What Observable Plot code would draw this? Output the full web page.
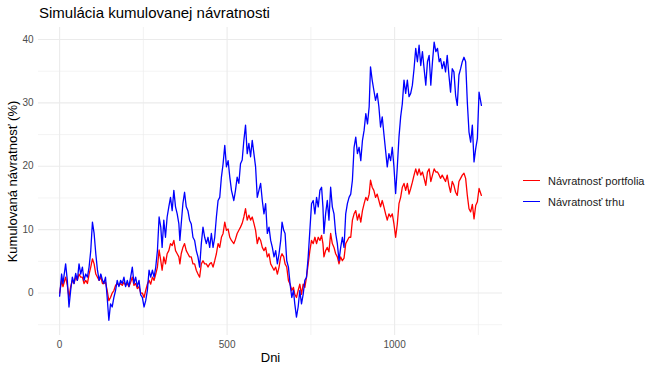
<!DOCTYPE html>
<html><head><meta charset="utf-8">
<script src="https://cdn.jsdelivr.net/npm/d3@7"></script>
<script src="https://cdn.jsdelivr.net/npm/@observablehq/plot@0.6"></script>
<style>
body{margin:0;background:#fff;font-family:"Liberation Sans",Arial,sans-serif;}
#wrap{position:relative;width:650px;height:372px;overflow:hidden;}
#chart{position:absolute;left:0;top:0;}
#title{position:absolute;left:39px;top:4px;font-size:15px;color:#000;white-space:nowrap;}
#legend{position:absolute;left:523px;top:170px;font-size:11px;color:#1a1a1a;}
.item{display:flex;align-items:center;height:21px;white-space:nowrap;}
.key{width:17px;height:1.5px;margin-right:8px;}
</style></head><body>
<div id="wrap"><div id="chart"></div><div id="title"></div><div id="legend"></div></div>
<script>
const titleText = "Simulácia kumulovanej návratnosti";
const xTitle = "Dni";
const yTitle = "Kumulovaná návratnosť (%)";
const seriesNames = ["Návratnosť portfolia", "Návratnosť trhu"];
const seriesColors = ["red", "blue"];
const xTicks = [0, 500, 1000];
const xMinor = [250, 750, 1250];
const yTicks = [0, 10, 20, 30, 40];
const yMinor = [-5, 5, 15, 25, 35];

const days = [
0,6,10,18,23,28,33,38,43,48,
53,58,63,68,73,78,83,88,93,98,
103,108,113,118,123,128,132,137,142,147,
152,157,162,167,172,177,182,187,192,197,
202,207,212,217,222,227,232,237,242,247,
252,257,262,267,272,277,282,287,292,297,
302,306,311,316,321,326,331,336,341,346,
351,356,359,363,368,373,378,383,388,393,
398,403,408,413,418,423,428,433,438,443,
448,453,458,463,468,473,478,483,488,493,
498,503,508,513,520,525,530,535,540,545,
550,555,560,565,570,575,580,585,590,595,
600,605,610,615,620,625,630,635,640,645,
650,655,660,664,669,673,678,683,688,693,
698,702,707,712,717,722,727,732,737,742,
747,752,757,762,767,772,777,782,786,789,
794,799,804,809,814,819,824,829,834,839,
844,849,854,859,864,869,874,879,884,889,
894,899,904,909,914,919,924,928,933,938,
943,948,953,958,963,968,973,978,983,988,
993,998,1003,1008,1013,1018,1023,1028,1033,1038,
1043,1048,1053,1058,1063,1068,1073,1078,1083,1088,
1093,1098,1103,1108,1113,1118,1123,1128,1133,1137,
1142,1147,1152,1157,1162,1167,1172,1177,1182,1187,
1192,1197,1202,1207,1212,1217,1222,1227,1232,1237,
1242,1247,1252,1259];

const market = [
-0.5,3.0,1.5,4.6,2.0,-2.2,0.4,2.5,1.5,3.1,
2.0,4.6,3.0,4.1,2.0,3.0,2.5,4.1,6.7,11.2,
9.4,6.2,3.6,2.0,3.0,2.0,1.5,2.5,-0.7,-4.3,
-1.7,-2.2,-0.7,0.4,2.0,1.0,2.0,1.5,2.5,1.0,
2.0,1.0,2.5,4.1,1.5,2.5,1.0,2.0,-0.3,-0.7,
-2.2,-1.2,0.4,3.6,2.5,3.6,2.5,4.1,6.7,12.0,
10.4,7.2,11.5,8.8,12.0,13.6,15.1,13.0,16.2,13.6,
12.5,10.9,8.3,10.9,14.1,15.9,13.6,13.0,11.5,10.9,
8.8,8.3,6.7,5.7,4.1,7.8,10.4,8.8,7.8,8.8,
7.2,9.4,7.2,8.8,12.0,14.6,15.1,18.3,20.4,23.3,
19.9,20.9,18.3,16.2,14.6,16.2,18.3,17.3,20.4,21.0,
24.1,26.5,22.0,23.6,21.5,24.1,22.0,19.9,15.1,16.2,
17.3,14.6,12.5,14.1,9.4,10.4,8.3,7.2,5.7,6.7,
4.6,6.2,8.3,11.2,9.9,9.4,5.1,4.1,1.4,-0.7,
0.4,-1.7,-3.8,-2.2,0.4,-1.7,-0.2,2.0,2.5,5.7,
9.9,14.1,14.6,12.5,15.1,13.6,16.2,16.7,13.6,9.4,
12.5,14.6,11.5,16.7,13.6,12.5,9.4,7.8,5.1,7.2,
8.8,7.2,12.5,14.1,15.1,15.6,17.8,23.0,24.6,22.0,
23.0,20.9,24.1,25.7,28.3,26.7,29.4,35.7,33.6,32.0,
30.4,31.5,29.4,26.2,27.8,25.1,22.5,19.9,22.0,20.9,
23.0,19.9,15.7,19.9,24.6,27.8,29.9,33.6,31.5,33.6,
31.0,31.5,32.8,35.4,38.6,36.5,39.1,35.9,38.1,35.4,
32.8,36.5,37.5,32.8,36.5,39.6,38.1,38.6,36.5,37.0,
35.4,36.5,34.9,37.5,34.4,31.7,35.4,34.9,31.2,29.6,
34.4,35.4,36.5,37.2,36.5,30.1,25.4,23.8,26.5,20.7,
22.8,24.4,31.7,29.6];

const portfolio = [
0,2.0,1.0,2.5,1.2,-0.7,1.0,2.0,1.5,2.5,
2.0,3.0,2.5,2.5,1.5,2.0,1.5,3.0,4.1,5.4,
4.6,3.0,2.5,2.0,2.5,1.5,1.5,1.7,0.4,-1.2,
-0.7,0,0.4,1.2,1.5,1.2,1.5,1.2,1.7,1.2,
1.5,1.0,1.7,2.5,1.2,1.5,0.7,1.0,0,0,
-0.7,0.4,1.4,2.0,1.4,2.5,2.0,3.0,4.1,6.8,
5.1,3.6,5.7,4.6,6.2,6.7,7.8,7.5,8.3,6.7,
6.2,5.7,4.6,6.2,7.2,7.8,6.7,6.2,5.7,5.7,
4.6,4.6,3.6,3.0,2.5,4.6,5.1,4.6,4.6,4.1,
4.6,4.8,4.1,5.1,6.2,7.8,7.2,8.8,9.4,11.2,
9.9,10.1,8.8,8.3,7.8,8.5,9.4,9.9,10.4,11.0,
12.0,13.3,11.5,12.3,11.5,12.0,11.0,9.9,7.8,8.8,
8.3,7.2,6.7,7.2,5.7,6.2,4.6,4.1,3.6,4.1,
3.0,4.1,5.7,6.2,5.7,4.6,4.1,2.0,1.4,0.4,
0.9,-0.2,-0.7,0.4,1.4,-0.2,1.4,0.9,2.5,4.6,
6.7,8.3,7.8,8.8,7.8,8.8,8.3,9.1,7.8,5.7,
6.7,7.2,6.5,9.4,7.8,7.2,6.2,5.7,4.6,5.7,
5.1,5.5,7.8,8.3,8.8,8.8,11.5,12.5,13.0,11.5,
12.5,11.2,13.0,14.1,15.1,14.6,15.6,17.8,16.7,16.2,
15.1,15.6,14.6,13.6,14.6,13.6,12.5,11.5,12.5,12.0,
12.5,10.9,8.8,10.9,14.1,15.1,16.7,17.3,16.2,17.3,
15.6,16.5,17.5,18.6,19.6,18.6,19.6,18.6,19.1,18.1,
17.0,19.1,19.6,17.6,18.6,19.6,19.1,19.1,18.6,18.1,
18.6,18.1,17.6,18.6,17.0,15.9,17.6,17.0,15.9,15.4,
17.6,18.1,18.6,18.9,18.1,15.4,13.3,12.8,14.0,11.7,
13.8,14.4,16.5,15.4];

if (days.length !== market.length || days.length !== portfolio.length) {
  throw new Error("length mismatch " + days.length + " " + market.length + " " + portfolio.length);
}

const rows = [];
days.forEach((d, i) => rows.push({day: d, value: portfolio[i], series: seriesNames[0]}));
days.forEach((d, i) => rows.push({day: d, value: market[i], series: seriesNames[1]}));

const grid = "#ebebeb";
const chart = Plot.plot({
  width: 650, height: 372,
  marginTop: 27, marginBottom: 37, marginLeft: 38, marginRight: 148,
  style: {fontFamily: "'Liberation Sans', Arial, sans-serif", background: "white"},
  x: {domain: [-63, 1322]},
  y: {domain: [-6.7, 41.9]},
  color: {domain: seriesNames, range: seriesColors},
  marks: [
    Plot.ruleX(xMinor, {stroke: grid, strokeWidth: 0.6}),
    Plot.ruleY(yMinor, {stroke: grid, strokeWidth: 0.6}),
    Plot.ruleX(xTicks, {stroke: grid, strokeWidth: 1.1}),
    Plot.ruleY(yTicks, {stroke: grid, strokeWidth: 1.1}),
    Plot.axisX({ticks: xTicks, tickSize: 0, tickPadding: 5, fontSize: 10, color: "#4d4d4d", label: null, tickFormat: d3.format("d")}),
    Plot.axisY({ticks: yTicks, tickSize: 0, tickPadding: 5, fontSize: 10, color: "#4d4d4d", label: null, tickFormat: d3.format("d")}),
    Plot.line(rows, {x: "day", y: "value", stroke: "series", z: "series", strokeWidth: 1.3}),
    Plot.text([xTitle], {frameAnchor: "bottom", dy: 22, fontSize: 13, fill: "#000", textAnchor: "middle", lineAnchor: "middle"}),
    Plot.text([yTitle], {frameAnchor: "left", dx: -26, rotate: -90, fontSize: 13, fill: "#000", textAnchor: "middle", lineAnchor: "middle"})
  ]
});
document.getElementById("chart").appendChild(chart);
document.getElementById("title").textContent = titleText;
const leg = document.getElementById("legend");
seriesNames.forEach((n, i) => {
  const item = document.createElement("div");
  item.className = "item";
  const k = document.createElement("div");
  k.className = "key";
  k.style.background = seriesColors[i];
  const t = document.createElement("span");
  t.textContent = n;
  item.appendChild(k); item.appendChild(t);
  leg.appendChild(item);
});
</script>
</body></html>
